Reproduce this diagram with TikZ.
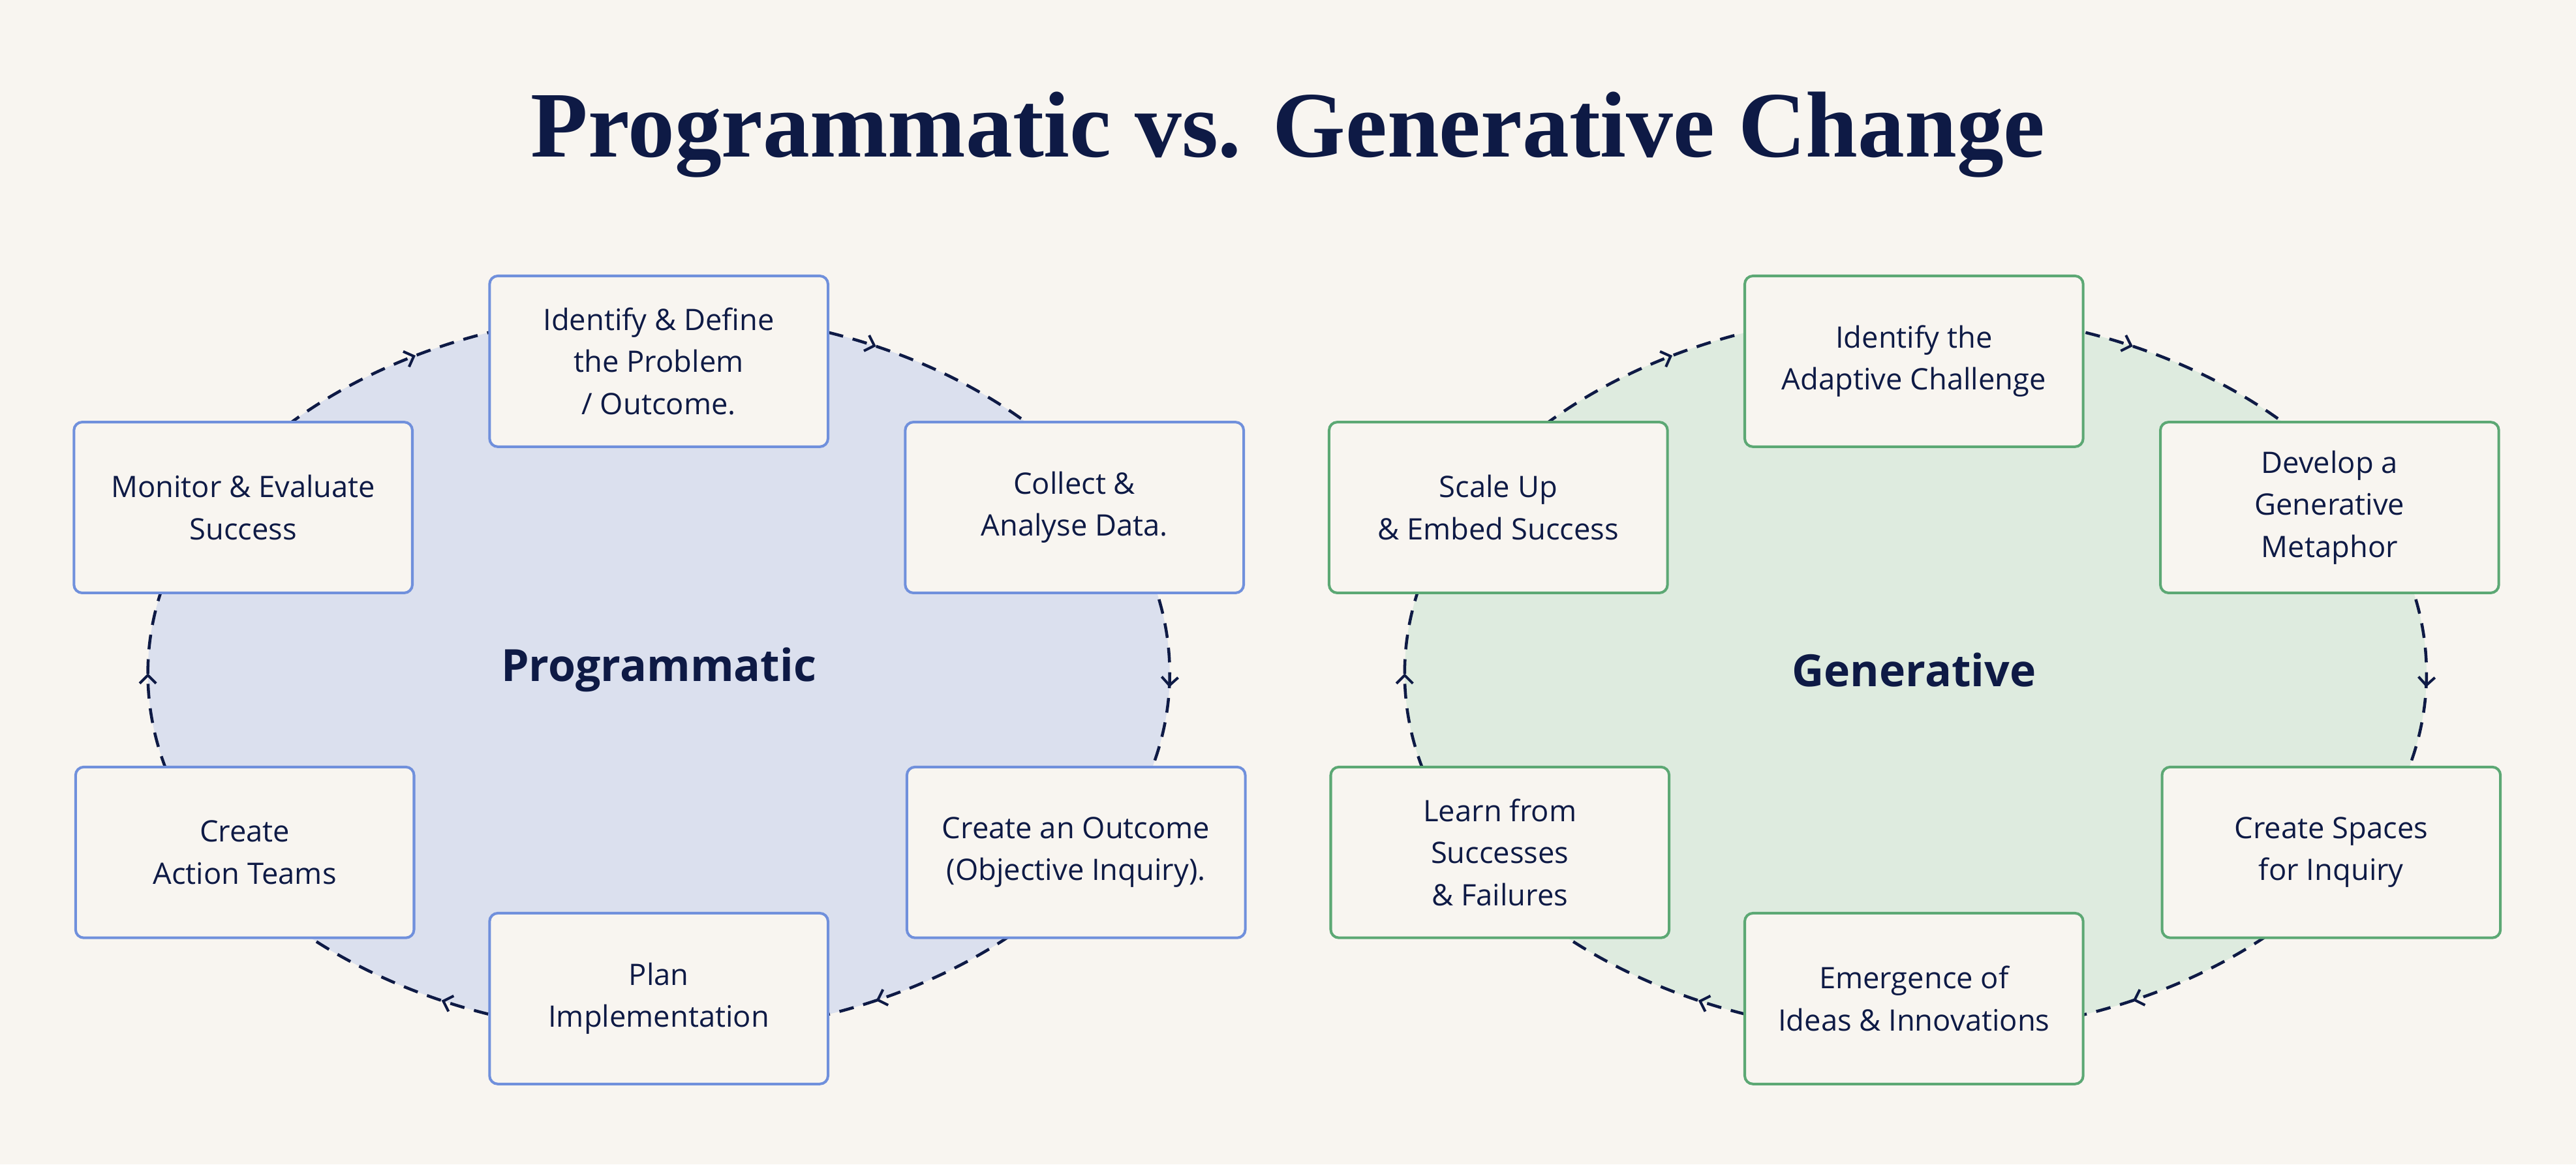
\documentclass[tikz,border=0pt]{standalone}
\usepackage{fontspec}
\setmainfont{Open Sans}
\newfontfamily\titlefont{Liberation Serif}
\usetikzlibrary{arrows.meta,decorations.markings}
\definecolor{bgcol}{HTML}{F8F5F0}
\definecolor{navy}{HTML}{0E1A45}
\definecolor{progfill}{HTML}{DBE0EE}
\definecolor{progline}{HTML}{7090DC}
\definecolor{genfill}{HTML}{DEEBDF}
\definecolor{genline}{HTML}{5CA874}
\tikzset{
  stepbox/.style={draw, line width=1.6pt, rounded corners=5pt, fill=bgcol,
    minimum width=206pt, minimum height=104pt, align=center,
    font=\fontsize{18}{25.5}\selectfont, text=navy},
  progbox/.style={stepbox, draw=progline},
  genbox/.style={stepbox, draw=genline},
  tip/.style={navy, solid, line width=1.6pt},
  cycle/.style={draw=navy, line width=1.8pt, dash pattern=on 9pt off 6pt,
    postaction={decorate}, decoration={markings,
      mark=at position 0.005 with {\arrow[tip]{Straight Barb[length=5pt,width=10pt]}},
      mark=at position 0.17 with {\arrow[tip]{Straight Barb[length=5pt,width=10pt]}},
      mark=at position 0.33 with {\arrow[tip]{Straight Barb[length=5pt,width=10pt]}},
      mark=at position 0.5 with {\arrow[tip]{Straight Barb[length=5pt,width=10pt]}},
      mark=at position 0.66 with {\arrow[tip]{Straight Barb[length=5pt,width=10pt]}},
      mark=at position 0.83 with {\arrow[tip]{Straight Barb[length=5pt,width=10pt]}}}},
  hub/.style={font=\fontsize{27}{30}\selectfont\bfseries, text=navy}
}
\begin{document}
\begin{tikzpicture}[x=1pt,y=-1pt]
        % background
        \fill[bgcol] (0,0) rectangle (1568,709);
        \useasboundingbox (0,0) rectangle (1568,709);
        \node[font=\titlefont\fontsize{57}{60}\selectfont\bfseries, text=navy] (title) at (784,82) {Programmatic vs. Generative Change};

        % left cycle
        \fill[progfill] (401,410) ellipse (311 and 220);
        \draw[cycle] (401,410) ellipse (311 and 220);
        \node[hub] (prog) at (401,408) {Programmatic};
        \node[progbox] (p1) at (401,220) {Identify \& Define\\the Problem\\ / Outcome.};
        \node[progbox] (p2) at (654,309) {Collect \&\\Analyse Data.};
        \node[progbox] (p3) at (655,519) {Create an Outcome\\(Objective Inquiry).};
        \node[progbox] (p4) at (401,608) {Plan\\Implementation};
        \node[progbox] (p5) at (149,519) {Create\\Action Teams};
        \node[progbox] (p6) at (148,309) {Monitor \& Evaluate\\Success};

        % right cycle
        \fill[genfill] (1166,410) ellipse (311 and 220);
        \draw[cycle] (1166,410) ellipse (311 and 220);
        \node[hub] (gen) at (1165,408) {Generative};
        \node[genbox] (g1) at (1165,220) {Identify the\\Adaptive Challenge};
        \node[genbox] (g2) at (1418,309) {Develop a\\Generative\\Metaphor};
        \node[genbox] (g3) at (1419,519) {Create Spaces\\for Inquiry};
        \node[genbox] (g4) at (1165,608) {Emergence of\\Ideas \& Innovations};
        \node[genbox] (g5) at (913,519) {Learn from\\Successes\\ \& Failures};
        \node[genbox] (g6) at (912,309) {Scale Up\\ \& Embed Success};
\end{tikzpicture}
\end{document}
